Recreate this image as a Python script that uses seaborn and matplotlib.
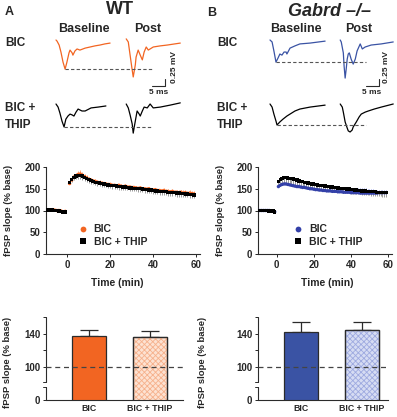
import matplotlib
matplotlib.use("Agg")
import matplotlib.pyplot as plt
from matplotlib.patches import Rectangle
import numpy as np
import pandas as pd
import seaborn as sns

W, H = 397, 417

# ---------------- example fEPSP traces (ms, mV) ----------------
wt_bic_base_t = [0, 0.4, 1.2, 1.9, 2.7, 3.5, 4.2, 5.0, 5.4, 6.2, 6.5, 7.3, 8.1, 9.2, 11.2, 13.1, 15.0, 16.9, 18.8, 20.8]
wt_bic_base_v = [0, -0.04, -0.18, -0.43, -0.79, -1.04, -0.79, -0.46, -0.36, -0.46, -0.54, -0.39, -0.32, -0.36, -0.29, -0.25, -0.21, -0.18, -0.14, -0.11]
wt_bic_post_t = [0, 0.8, 1.5, 2.3, 2.7, 3.5, 3.8, 4.6, 5.4, 6.2, 6.9, 7.7, 8.5, 10.4, 13.1, 15.8, 20.8]
wt_bic_post_v = [0.04, -0.07, -0.54, -1.07, -1.32, -0.89, -0.61, -0.36, -0.54, -0.71, -0.43, -0.25, -0.36, -0.25, -0.21, -0.18, -0.11]
wt_thip_base_t = [0, 0.8, 1.5, 2.3, 3.1, 3.8, 4.6, 5.4, 6.2, 6.9, 7.7, 8.5, 10.0, 11.2, 13.5, 16.2, 19.2]
wt_thip_base_v = [0, -0.11, -0.32, -0.61, -0.82, -0.54, -0.43, -0.36, -0.39, -0.43, -0.29, -0.18, -0.25, -0.25, -0.14, -0.11, -0.07]
wt_thip_post_t = [0, 0.8, 1.5, 2.3, 2.7, 3.1, 3.5, 4.2, 5.0, 5.4, 6.2, 6.9, 8.1, 9.2, 10.4, 13.1, 16.9, 20.8]
wt_thip_post_v = [0, -0.14, -0.39, -0.71, -1.04, -0.82, -0.61, -0.25, -0.36, -0.43, -0.25, -0.11, -0.14, 0, -0.14, -0.11, -0.04, 0.04]

ko_bic_base_t = [0, 0.8, 1.5, 2.3, 3.1, 3.8, 4.6, 5.4, 6.2, 6.5, 7.7, 9.6, 11.5, 15.4, 21.2]
ko_bic_base_v = [0, -0.07, -0.39, -0.79, -0.64, -0.50, -0.54, -0.43, -0.43, -0.50, -0.29, -0.21, -0.14, -0.11, -0.04]
ko_bic_post_t = [0, 0.4, 1.2, 1.5, 1.9, 2.3, 2.7, 3.1, 3.5, 4.2, 5.0, 5.8, 6.5, 7.7, 8.5, 9.6, 11.9, 15.8, 20.4]
ko_bic_post_v = [0, -0.07, -0.46, -0.93, -1.36, -1.04, -0.68, -0.50, -0.46, -0.68, -0.86, -0.68, -0.39, -0.14, -0.32, -0.25, -0.18, -0.14, -0.07]
ko_thip_base_t = [0, 0.8, 1.5, 2.3, 2.7, 3.8, 5.0, 6.5, 7.7, 9.6, 11.5, 15.4, 21.2]
ko_thip_base_v = [0, -0.11, -0.36, -0.61, -0.75, -0.64, -0.54, -0.43, -0.36, -0.25, -0.18, -0.11, -0.04]
ko_thip_post_t = [0, 0.8, 1.2, 1.9, 2.7, 3.1, 3.8, 4.6, 5.0, 6.2, 7.3, 8.1, 9.6, 10.8, 13.1, 15.8, 20.4]
ko_thip_post_v = [0, -0.11, -0.29, -0.64, -0.86, -0.96, -1.00, -0.93, -0.82, -0.64, -0.46, -0.36, -0.29, -0.25, -0.18, -0.11, 0]

# ---------------- time course (% baseline fPSP slope) ----------------
t_base = np.arange(-10, 0)
t_post = np.arange(1, 60)

wt_bic_base = [101, 102, 101, 102, 101, 100, 100, 99, 97, 98]
wt_thip_base = [100, 101, 101, 101, 100, 100, 99, 98, 97, 97]
wt_bic_post = [162, 170, 177, 180, 183, 184, 181, 178, 175, 172,
               170, 168, 167, 165, 164, 163, 162, 161, 160, 160,
               158, 158, 157, 158, 156, 155, 156, 154, 154, 153,
               153, 152, 151, 152, 150, 150, 149, 150, 148, 147,
               148, 146, 146, 145, 146, 144, 144, 143, 144, 142,
               142, 141, 142, 140, 141, 139, 140, 139, 138]
wt_thip_post = [165, 171, 176, 179, 181, 181, 179, 176, 173, 171,
                169, 167, 165, 164, 163, 162, 161, 160, 159, 158,
                157, 157, 156, 155, 155, 154, 154, 153, 152, 152,
                151, 151, 150, 150, 149, 148, 148, 147, 147, 146,
                145, 145, 144, 144, 143, 143, 142, 142, 141, 141,
                140, 140, 139, 139, 138, 138, 137, 137, 136]
wt_bic_base_sem = [2, 2, 2, 2, 2, 2, 2, 2, 2, 2]
wt_thip_base_sem = [2, 2, 2, 2, 2, 2, 2, 2, 2, 2]
wt_bic_post_sem = [4, 5, 6, 7, 8, 9, 8, 7, 6, 6,
                   5, 5, 5, 5, 5, 4, 4, 4, 4, 4,
                   4, 4, 4, 4, 4, 4, 4, 4, 4, 4,
                   4, 4, 4, 4, 4, 4, 4, 4, 4, 4,
                   4, 4, 4, 5, 5, 5, 5, 5, 5, 5,
                   5, 5, 5, 6, 6, 6, 6, 6, 6]
wt_thip_post_sem = [5, 6, 7, 7, 8, 8, 8, 8, 7, 7,
                    7, 7, 7, 7, 7, 7, 7, 7, 7, 7,
                    7, 7, 7, 7, 7, 7, 7, 7, 7, 7,
                    7, 7, 7, 7, 7, 7, 7, 7, 7, 7,
                    7, 8, 8, 8, 8, 8, 8, 8, 8, 8,
                    8, 8, 8, 8, 8, 8, 8, 8, 8]

ko_bic_base = [100, 100, 100, 100, 100, 100, 100, 99, 99, 97]
ko_thip_base = [100, 100, 100, 100, 100, 100, 99, 99, 99, 97]
ko_bic_post = [155, 158, 160, 161, 161, 160, 159, 158, 157, 156,
               155, 155, 154, 153, 153, 152, 151, 150, 150, 149,
               148, 148, 147, 147, 146, 146, 145, 145, 145, 144,
               144, 144, 143, 143, 143, 142, 142, 142, 142, 141,
               141, 141, 141, 141, 140, 140, 140, 140, 140, 140,
               140, 140, 140, 140, 141, 141, 141, 141, 141]
ko_thip_post = [167, 171, 174, 176, 176, 175, 174, 173, 172, 171,
                170, 168, 167, 166, 165, 164, 163, 162, 161, 161,
                160, 159, 158, 157, 157, 156, 155, 155, 154, 154,
                153, 153, 152, 151, 151, 150, 150, 149, 149, 148,
                148, 147, 147, 146, 146, 145, 145, 145, 144, 144,
                143, 143, 143, 142, 142, 142, 141, 141, 141]
ko_bic_base_sem = [1, 1, 1, 1, 1, 1, 1, 1, 1, 1]
ko_thip_base_sem = [1, 1, 1, 1, 1, 1, 1, 1, 1, 1]
ko_bic_post_sem = [3, 3, 3, 3, 3, 3, 3, 3, 3, 3,
                   3, 3, 3, 3, 3, 3, 3, 3, 4, 4,
                   4, 4, 4, 4, 4, 5, 5, 5, 5, 6,
                   6, 6, 7, 7, 8, 8, 9, 9, 10, 10,
                   10, 11, 11, 11, 12, 11, 12, 11, 10, 10,
                   9, 9, 8, 8, 7, 7, 6, 6, 5]
ko_thip_post_sem = [12, 13, 14, 15, 15, 15, 15, 15, 15, 14,
                    14, 14, 14, 13, 13, 13, 13, 12, 12, 12,
                    12, 11, 11, 11, 11, 10, 10, 10, 10, 10,
                    9, 9, 9, 9, 9, 9, 9, 9, 9, 9,
                    9, 9, 9, 9, 9, 9, 9, 9, 9, 9,
                    9, 9, 9, 9, 9, 9, 9, 9, 9]

# ---------------- summary bars ----------------
bar_labels = ["BIC", "BIC + THIP"]
wt_bar_mean = [136.8, 136.0]
wt_bar_sem = [8.0, 7.6]
ko_bar_mean = [142.0, 144.4]
ko_bar_sem = [11.8, 9.4]

ORANGE = "#f26522"
ORANGE_LT = "#f9a77c"
ORANGE_PALE = "#fde2d2"
ORANGE_HATCH = "#f6b18c"
BLUE = "#3a53a4"
BLUE_PT = "#3340a8"
BLUE_LT = "#8e9ae6"
BLUE_PALE = "#d6dcf3"
BLUE_HATCH = "#9eaae0"
DARK = "#2b2b2b"
POST_SHIFT = 27   # ms between baseline and post sweeps
DASH_END = 37

sns.set_style("ticks")
plt.rcParams["font.family"] = ["Liberation Sans", "DejaVu Sans"]
plt.rcParams["font.weight"] = "bold"
plt.rcParams["axes.labelweight"] = "bold"
plt.rcParams["axes.edgecolor"] = DARK
plt.rcParams["axes.linewidth"] = 0.8
plt.rcParams["hatch.linewidth"] = 0.6

fig = plt.figure(figsize=(W / 100, H / 100), dpi=100)


def px_axes(left, top, right, bottom):
    return fig.add_axes([left / W, 1 - bottom / H, (right - left) / W, (bottom - top) / H])


def px_text(x, y, s, **kw):
    fig.text(x / W, 1 - y / H, s, **kw)


def trace_row(left, right, x0, top, bottom, y0, base_t, base_v, post_t, post_v, color):
    ax = px_axes(left, top, right, bottom)
    sns.lineplot(x=base_t, y=base_v, sort=False, estimator=None, color=color, lw=0.9, ax=ax)
    sns.lineplot(x=np.asarray(post_t) + POST_SHIFT, y=post_v, sort=False, estimator=None,
                 color=color, lw=0.9, ax=ax)
    i = int(np.argmin(base_v))
    ax.plot([base_t[i], DASH_END], [base_v[i]] * 2, ls=(0, (3, 2)), color="#555555", lw=0.8)
    ax.set_xlim((left - x0) / 2.6, (right - x0) / 2.6)
    ax.set_ylim(-(bottom - y0) / 28, (y0 - top) / 28)
    ax.axis("off")
    return ax


def scale_bar(ax):
    ax.plot([37, 42, 42], [-1.64, -1.64, -1.39], color=DARK, lw=0.8, clip_on=False)


def time_course(left, right, x_zero, px_per_20, base_a, post_a, bsem_a, psem_a,
                base_b, post_b, bsem_b, psem_b, col, col_err, leg_xy, ylab_x, xlab_x):
    ax = px_axes(left, 167, right, 254)
    t_all = np.r_[t_base, t_post]
    a = np.r_[base_a, post_a]
    b = np.r_[base_b, post_b]
    sa = np.r_[bsem_a, psem_a]
    sb = np.r_[bsem_b, psem_b]
    ax.errorbar(t_all, a, yerr=[np.zeros_like(sa), sa], fmt="none", ecolor=col_err,
                elinewidth=0.7, capsize=0, zorder=1.5)
    ax.errorbar(t_all, b, yerr=[sb, np.zeros_like(sb)], fmt="none", ecolor="#9a9a9a",
                elinewidth=0.7, capsize=0, zorder=1.6)
    df = pd.DataFrame({
        "time": np.r_[t_all, t_all],
        "slope": np.r_[a, b],
        "cond": ["BIC"] * len(t_all) + ["BIC + THIP"] * len(t_all),
    })
    sns.scatterplot(data=df, x="time", y="slope", hue="cond", style="cond",
                    palette={"BIC": col, "BIC + THIP": "black"},
                    markers={"BIC": "o", "BIC + THIP": "s"}, s=6, linewidth=0,
                    ax=ax, zorder=3)
    xmin = -10
    xmax = (right - x_zero) / px_per_20 * 20
    ax.set_xlim(xmin, xmax)
    ax.set_ylim(0, 200)
    ax.set_xticks([0, 20, 40, 60])
    ax.set_yticks([0, 50, 100, 150, 200])
    ax.tick_params(labelsize=7, length=2.5, width=0.7, pad=1.5)
    for lab in ax.get_xticklabels() + ax.get_yticklabels():
        lab.set_fontweight("bold")
    sns.despine(ax=ax)
    ax.set_ylabel("fPSP slope (% base)", fontsize=6.8)
    ax.set_xlabel("Time (min)", fontsize=7.5)
    ax.yaxis.set_label_coords((ylab_x - left) / (right - left), 0.5)
    ax.xaxis.set_label_coords((xlab_x - left) / (right - left), -(278 - 254) / 87)
    sns.move_legend(ax, "lower left", bbox_to_anchor=leg_xy, frameon=False, title=None,
                    fontsize=7.5, handletextpad=0.05, labelspacing=0.25, borderaxespad=0,
                    markerscale=1.7, borderpad=0)
    return ax


def bars(left, right, c0, spacing, means, sems, face, pale, hatch_col, ylab_x):
    ax = px_axes(left, 317, right, 400)
    sns.barplot(x=bar_labels, y=means, hue=bar_labels, palette=[face, pale], legend=False,
                saturation=1, width=34 / spacing, edgecolor=DARK, linewidth=0.9,
                errorbar=None, ax=ax, zorder=2)
    p = ax.patches[1]
    ax.add_patch(Rectangle((p.get_x(), p.get_y()), p.get_width(), p.get_height(), fill=False,
                           hatch="xxxxxx", edgecolor=hatch_col, lw=0, zorder=2.1))
    ax.add_patch(Rectangle((p.get_x(), p.get_y()), p.get_width(), p.get_height(), fill=False,
                           edgecolor=DARK, lw=0.9, zorder=2.2))
    ax.errorbar([0, 1], means, yerr=[[0, 0], sems], fmt="none", ecolor=DARK,
                elinewidth=0.9, capsize=6.5, capthick=0.9, zorder=1.8)
    ax.axhline(100, ls=(0, (4, 3)), color="#444444", lw=0.9, zorder=2.5)
    ax.set_ylim(60, 160)
    ax.set_xlim(-(c0 - left) / spacing, (right - c0) / spacing)
    ax.set_yticks([60, 100, 140])
    ax.set_yticklabels(["0", "100", "140"])
    ax.set_yticks([120, 160], minor=True)
    ax.tick_params(axis="y", which="both", labelsize=7, length=2.5, width=0.7, pad=1.5)
    ax.tick_params(axis="x", labelsize=6.3, length=0, pad=3)
    for lab in ax.get_xticklabels() + ax.get_yticklabels():
        lab.set_fontweight("bold")
    sns.despine(ax=ax)
    ax.spines["left"].set_visible(False)
    tr = ax.get_yaxis_transform()
    cap = 3 / (right - left)
    ax.plot([0, 0], [82, 160], transform=tr, color=DARK, lw=0.8, clip_on=False)
    ax.plot([0, 0], [60, 76], transform=tr, color=DARK, lw=0.8, clip_on=False)
    ax.plot([-cap, 0], [82, 82], transform=tr, color=DARK, lw=0.7, clip_on=False)
    ax.plot([-cap, 0], [76, 76], transform=tr, color=DARK, lw=0.7, clip_on=False)
    ax.set_ylabel("fPSP slope (% base)", fontsize=6.8)
    ax.yaxis.set_label_coords((ylab_x - left) / (right - left), 0.45)
    return ax


# ---------------- panel A (WT) ----------------
px_text(5, 12, "A", fontsize=9, fontweight="bold", va="center")
px_text(120, 10, "WT", fontsize=13, fontweight="bold", ha="center", va="center")
px_text(84, 29, "Baseline", fontsize=9, fontweight="bold", ha="center", va="center")
px_text(148, 29, "Post", fontsize=9, fontweight="bold", ha="center", va="center")
px_text(5, 43, "BIC", fontsize=8.5, fontweight="bold", va="center")
px_text(5, 108, "BIC +", fontsize=8.5, fontweight="bold", va="center")
px_text(5, 125, "THIP", fontsize=8.5, fontweight="bold", va="center")
ax = trace_row(50, 190, 56, 30, 92, 40, wt_bic_base_t, wt_bic_base_v, wt_bic_post_t, wt_bic_post_v, ORANGE)
scale_bar(ax)
trace_row(50, 190, 56, 95, 140, 104, wt_thip_base_t, wt_thip_base_v, wt_thip_post_t, wt_thip_post_v, "black")
px_text(174, 67, "0.25 mV", fontsize=6, fontweight="bold", rotation=90, ha="center", va="center")
px_text(159, 93, "5 ms", fontsize=6, fontweight="bold", ha="center", va="center")

time_course(46, 200, 67, 43, wt_bic_base, wt_bic_post, wt_bic_base_sem, wt_bic_post_sem,
            wt_thip_base, wt_thip_post, wt_thip_base_sem, wt_thip_post_sem,
            ORANGE, ORANGE_LT, (0.17, 0.08), 13, 117)
bars(46, 183, 89, 61, wt_bar_mean, wt_bar_sem, ORANGE, ORANGE_PALE, ORANGE_HATCH, 12)

# ---------------- panel B (Gabrd -/-) ----------------
px_text(207, 13, "B", fontsize=9, fontweight="bold", va="center")
px_text(330, 11, "Gabrd \u2013/\u2013", fontsize=13, fontweight="bold", fontstyle="italic",
        ha="center", va="center")
px_text(296, 29, "Baseline", fontsize=9, fontweight="bold", ha="center", va="center")
px_text(359, 29, "Post", fontsize=9, fontweight="bold", ha="center", va="center")
px_text(217, 43, "BIC", fontsize=8.5, fontweight="bold", va="center")
px_text(217, 108, "BIC +", fontsize=8.5, fontweight="bold", va="center")
px_text(217, 125, "THIP", fontsize=8.5, fontweight="bold", va="center")
ax = trace_row(264, 397, 270, 30, 92, 40, ko_bic_base_t, ko_bic_base_v, ko_bic_post_t, ko_bic_post_v, BLUE)
scale_bar(ax)
trace_row(264, 397, 270, 95, 140, 104, ko_thip_base_t, ko_thip_base_v, ko_thip_post_t, ko_thip_post_v, "black")
px_text(386, 67, "0.25 mV", fontsize=6, fontweight="bold", rotation=90, ha="center", va="center")
px_text(372, 93, "5 ms", fontsize=6, fontweight="bold", ha="center", va="center")

time_course(258, 392, 277, 37, ko_bic_base, ko_bic_post, ko_bic_base_sem, ko_bic_post_sem,
            ko_thip_base, ko_thip_post, ko_thip_base_sem, ko_thip_post_sem,
            BLUE_PT, BLUE_LT, (0.22, 0.08), 225, 327)
bars(258, 388, 301, 60.5, ko_bar_mean, ko_bar_sem, BLUE, BLUE_PALE, BLUE_HATCH, 207)

fig.savefig("out.png", dpi=100)
